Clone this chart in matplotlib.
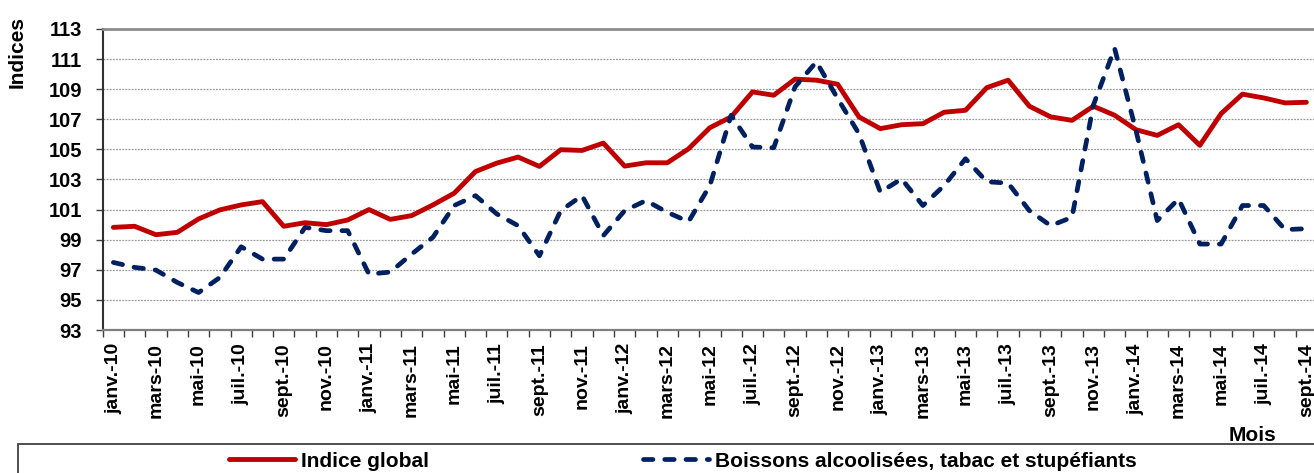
import matplotlib
matplotlib.use('Agg')
import matplotlib.pyplot as plt
from matplotlib.patches import Rectangle

# indices mensuels, janv.-10 -> sept.-14
indice_global = [99.82, 99.89, 99.33, 99.49, 100.38, 100.98, 101.31, 101.53, 99.89, 100.13,
                 100.0, 100.31, 101.0, 100.35, 100.6, 101.31, 102.09, 103.53, 104.09, 104.49,
                 103.87, 104.98, 104.93, 105.42, 103.89, 104.11, 104.11, 105.04, 106.44, 107.16,
                 108.82, 108.6, 109.67, 109.6, 109.33, 107.16, 106.38, 106.64, 106.71, 107.47,
                 107.6, 109.1, 109.6, 107.87, 107.16, 106.93, 107.87, 107.27, 106.31, 105.93,
                 106.64, 105.27, 107.38, 108.67, 108.42, 108.09, 108.13]
boissons = [97.49, 97.16, 96.98, 96.16, 95.49, 96.49, 98.53, 97.71, 97.71, 99.82,
            99.6, 99.6, 96.71, 96.85, 98.04, 99.16, 101.27, 101.93, 100.71, 99.93,
            97.93, 100.93, 101.93, 99.27, 100.93, 101.6, 100.82, 100.2, 102.6, 107.27,
            105.16, 105.11, 109.16, 110.82, 108.38, 106.04, 102.16, 103.04, 101.27, 102.6,
            104.38, 102.85, 102.76, 100.93, 99.93, 100.49, 107.93, 111.71, 106.27, 100.27,
            101.71, 98.71, 98.71, 101.27, 101.27, 99.67, 99.73]
# un libelle tous les deux mois
mois_labels = ['janv.-10', 'mars-10', 'mai-10', 'juil.-10', 'sept.-10', 'nov.-10',
               'janv.-11', 'mars-11', 'mai-11', 'juil.-11', 'sept.-11', 'nov.-11',
               'janv.-12', 'mars-12', 'mai-12', 'juil.-12', 'sept.-12', 'nov.-12',
               'janv.-13', 'mars-13', 'mai-13', 'juil.-13', 'sept.-13', 'nov.-13',
               'janv.-14', 'mars-14', 'mai-14', 'juil.-14', 'sept.-14']

plt.rcParams['font.family'] = ['Liberation Sans', 'DejaVu Sans']
plt.rcParams['font.weight'] = 'bold'

W, H = 1314, 473
fig = plt.figure(figsize=(W / 100, H / 100), dpi=100)
ax = fig.add_axes([102.7 / W, 1 - 330 / H, 1214.3 / W, 301 / H])

x = range(len(indice_global))
l1, = ax.plot(x, indice_global, color='#C00000', lw=3.5, solid_capstyle='round',
              solid_joinstyle='round', label='Indice global', zorder=3)
l2, = ax.plot(x, boissons, color='#002060', lw=3.4, dashes=(2.0, 2.5), dash_capstyle='round',
              label='Boissons alcoolisées, tabac et stupéfiants', zorder=3)

ax.set_xlim(-0.5, len(indice_global) - 0.5)
ax.set_ylim(93, 113)
ax.set_yticks(range(93, 114, 2))
ax.yaxis.grid(True, linestyle=(0, (1.5, 1)), color='#9a9a9a', lw=0.9)
ax.set_axisbelow(True)

ax.set_xticks(range(0, len(indice_global), 2))
ax.set_xticklabels(mois_labels, rotation=90)
ax.set_xticks([i - 0.5 for i in range(len(indice_global) + 1)], minor=True)
ax.tick_params(axis='x', which='major', length=0, pad=9.5, labelsize=14)
ax.tick_params(axis='x', which='minor', length=5, width=1, color='#404040')
ax.tick_params(axis='y', length=5, width=1, color='#404040', pad=10, labelsize=14.5)

ax.spines['right'].set_visible(False)
ax.spines['left'].set_color('#303030')
ax.spines['left'].set_linewidth(1.5)
ax.spines['bottom'].set_color('#7f7f7f')
ax.spines['bottom'].set_linewidth(1.6)
ax.spines['top'].set_color('#8c8c8c')
ax.spines['top'].set_linewidth(2)

fig.text(17.5 / W, 1 - 51.5 / H, 'Indices', rotation=90, ha='center', va='center', fontsize=15)
fig.text(1252 / W, 1 - 435 / H, 'Mois', ha='center', va='center', fontsize=15)

# cadre de legende
fig.add_artist(Rectangle((18 / W, -0.2), 1.2, 0.2 + (473 - 444) / H, transform=fig.transFigure,
                         fill=False, ec='#404040', lw=1.3))
fig.legend(handles=[l1, l2], loc='center left', bbox_to_anchor=(229 / W, 1 - 461 / H), ncol=2,
           frameon=False, fontsize=15, handlelength=3.15, handletextpad=0.3, columnspacing=10.3,
           borderpad=0, borderaxespad=0)

fig.savefig('out.png', dpi=100)
